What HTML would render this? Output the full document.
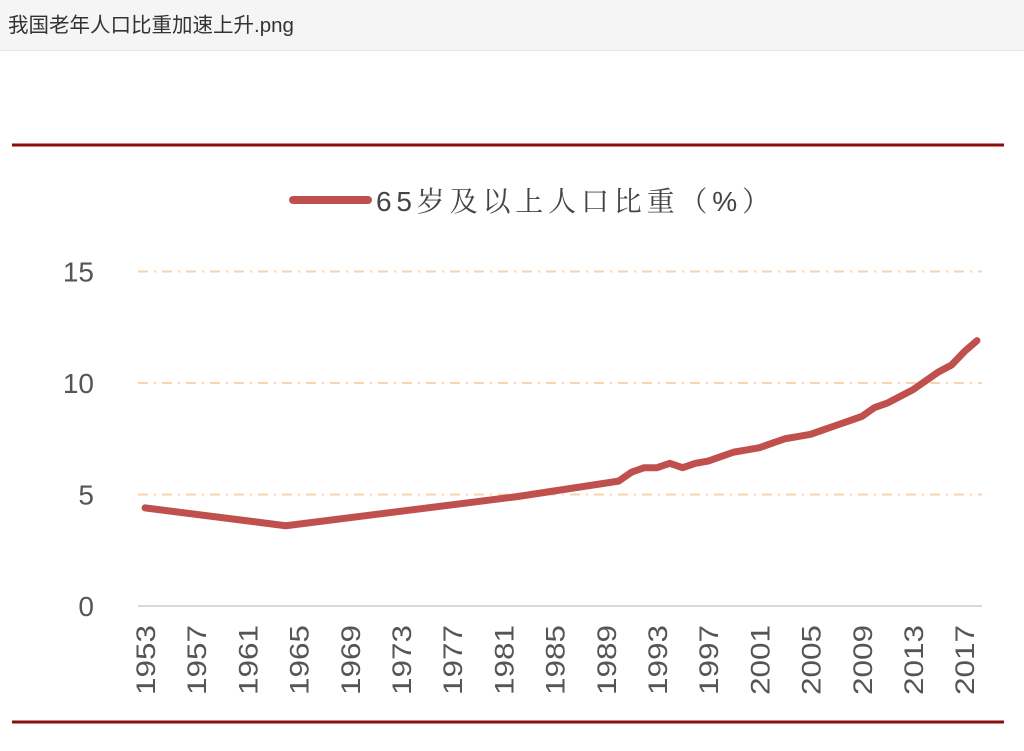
<!DOCTYPE html>
<html><head><meta charset="utf-8"><style>
body{margin:0;width:1024px;height:751px;background:#fff;overflow:hidden;font-family:"Liberation Sans","Noto Sans CJK SC",sans-serif}
#bar{position:absolute;left:0;top:0;width:1024px;height:50px;background:#f5f5f5;border-bottom:1px solid #e6e6e6}
#bar span{position:absolute;left:8px;top:8px;font-size:20.5px;color:#333}
</style></head><body>
<div id="bar"><span>我国老年人口比重加速上升.png</span></div>
<svg width="1024" height="751" style="position:absolute;left:0;top:0" id="chart">
<line x1="12" y1="145" x2="1004" y2="145" stroke="#8b0d0d" stroke-width="3"/>
<line x1="12" y1="722" x2="1004" y2="722" stroke="#8b0d0d" stroke-width="3"/>
<g>
<line x1="293" y1="200" x2="368" y2="200" stroke="#c0504d" stroke-width="8" stroke-linecap="round"/>
<text x="376" y="211" font-size="28" fill="#444" font-family="Liberation Sans,Noto Serif CJK SC,serif" textLength="394" lengthAdjust="spacing">65岁及以上人口比重（%）</text>
</g>
<text x="-8" y="365" font-size="26" fill="#555">)</text>
<g id="grid"></g><g id="xt"></g>
<path id="line" fill="none" stroke="#c0504d" stroke-width="7" stroke-linejoin="round" stroke-linecap="round"/>
</svg>
<script>
const years=[1953,1964,1982,1990,1991,1992,1993,1994,1995,1996,1997,1998,1999,2000,2001,2002,2003,2004,2005,2006,2007,2008,2009,2010,2011,2012,2013,2014,2015,2016,2017,2018];
const values=[4.4,3.6,4.9,5.6,6.0,6.2,6.2,6.4,6.2,6.4,6.5,6.7,6.9,7.0,7.1,7.3,7.5,7.6,7.7,7.9,8.1,8.3,8.5,8.9,9.1,9.4,9.7,10.1,10.5,10.8,11.4,11.9];
const yTicks=[0,5,10,15];
const xTickYears=[1953,1957,1961,1965,1969,1973,1977,1981,1985,1989,1993,1997,2001,2005,2009,2013,2017];
const x=yr=>145+(yr-1953)*12.8, y=v=>606-v*22.3;
const ns="http://www.w3.org/2000/svg";
const g=document.getElementById('grid'), xt=document.getElementById('xt');
yTicks.forEach(t=>{
 const l=document.createElementNS(ns,'line');
 l.setAttribute('x1',138);l.setAttribute('x2',982);l.setAttribute('y1',y(t));l.setAttribute('y2',y(t));
 if(t===0){l.setAttribute('stroke','#d9d9d9');l.setAttribute('stroke-width','2');}
 else{l.setAttribute('stroke','#fbd3b0');l.setAttribute('stroke-width','2');l.setAttribute('stroke-dasharray','10 6 2 6');}
 
 
 g.appendChild(l);
 const tx=document.createElementNS(ns,'text');
 tx.setAttribute('x',94);tx.setAttribute('y',y(t)+10);tx.setAttribute('text-anchor','end');
 tx.setAttribute('font-size','28');tx.setAttribute('fill','#555');tx.textContent=t;
 
 
 g.appendChild(tx);
});
xTickYears.forEach(yr=>{
 const tx=document.createElementNS(ns,'text');
 tx.setAttribute('transform',`translate(${x(yr)+10},625) rotate(-90)`);
 tx.setAttribute('text-anchor','end');tx.setAttribute('font-size','27');tx.setAttribute('fill','#555');
 tx.setAttribute('textLength','70');tx.setAttribute('lengthAdjust','spacingAndGlyphs');
 tx.textContent=yr;
 
 
 xt.appendChild(tx);
});
document.getElementById('line').setAttribute('d',years.map((yr,i)=>(i?'L':'M')+x(yr)+','+y(values[i])).join(''));
</script>
</body></html>
